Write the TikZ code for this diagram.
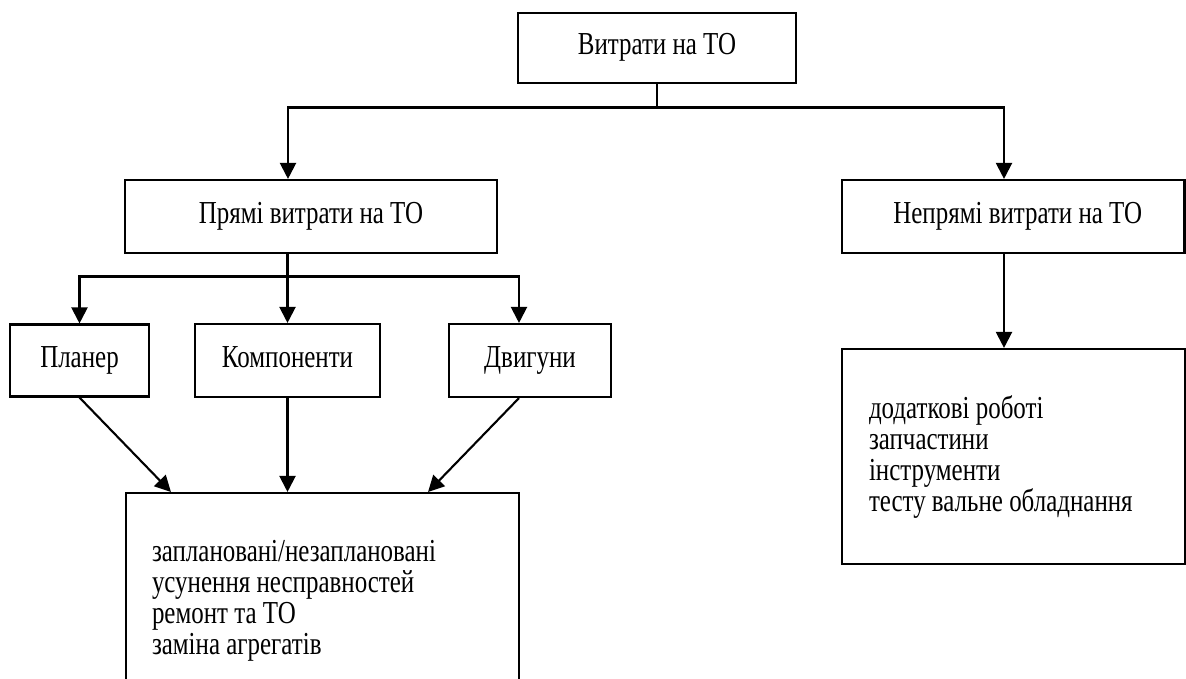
\documentclass[tikz,border=0pt]{standalone}
\usepackage{fontspec}
\setmainfont[FakeStretch=0.78]{Liberation Serif}
\usetikzlibrary{arrows.meta}
\begin{document}
\begin{tikzpicture}[x=1pt,y=-1pt,
  box/.style={draw, line width=2.1pt, rectangle, inner sep=0pt, font=\fontsize{32}{31}\selectfont},
  single/.style={box, text height=21pt, text depth=7pt},
  multi/.style={box, minimum height=215pt, align=flush left},
  conn/.style={line width=2.1pt},
  arr/.style={conn, -{Triangle[length=16pt,width=16pt]}},
]
\clip (0,0) rectangle (1186,679);
\fill[white] (0,0) rectangle (1186,679);
\node[single, minimum width=278pt, minimum height=70pt] (top) at (657,48) {Витрати на ТО};
\node[single, minimum width=372pt, minimum height=73pt] (pr) at (311,216.5) {Прямі витрати на ТО};
\node[single, minimum width=342.5pt, minimum height=73pt] (np) at (1013.25,216.5) {\hspace{9pt}Непрямі витрати на ТО};
\node[single, minimum width=139pt, minimum height=72pt] (pl) at (79.5,360.5) {Планер};
\node[single, minimum width=185pt, minimum height=73pt] (ko) at (287.5,360.5) {Компоненти};
\node[single, minimum width=162pt, minimum height=73pt] (dv) at (530,360.5) {Двигуни};
\node[multi, text width=341pt, inner xsep=26pt] (work) at (322.5,600.5)
  {заплановані/незаплановані\\усунення несправностей\\ремонт та ТО\\заміна агрегатів};
\node[multi, text width=289pt, inner xsep=27pt] (ind) at (1013.5,456.5)
  {додаткові роботі\\запчастини\\інструменти\\тесту вальне обладнання};
\coordinate (jL) at (288,107.5);
\coordinate (jR) at (1004,107.5);
\coordinate (kL) at (79.5,276.5);
\coordinate (kM) at (287.5,276.5);
\coordinate (kR) at (519,276.5);
\draw[conn] (top.south) -- (top.south |- jL);
\draw[arr] (top.south |- jL) -- (jL) -- (jL |- pr.north);
\draw[arr] (top.south |- jL) -- (jR) -- (jR |- np.north);
\draw[conn] (pr.south -| kM) -- (kM);
\draw[arr] (kM) -- (kL) -- (kL |- pl.north);
\draw[arr] (kM) -- (kR) -- (kR |- dv.north);
\draw[arr] (kM) -- (ko.north);
\draw[arr] (pl.south) -- ([xshift=46pt]work.north west);
\draw[arr] (ko.south) -- (ko.south |- work.north);
\draw[arr] ([xshift=-11pt]dv.south) -- ([xshift=-92pt]work.north east);
\draw[arr] (jR |- np.south) -- (jR |- ind.north);
\end{tikzpicture}
\end{document}
